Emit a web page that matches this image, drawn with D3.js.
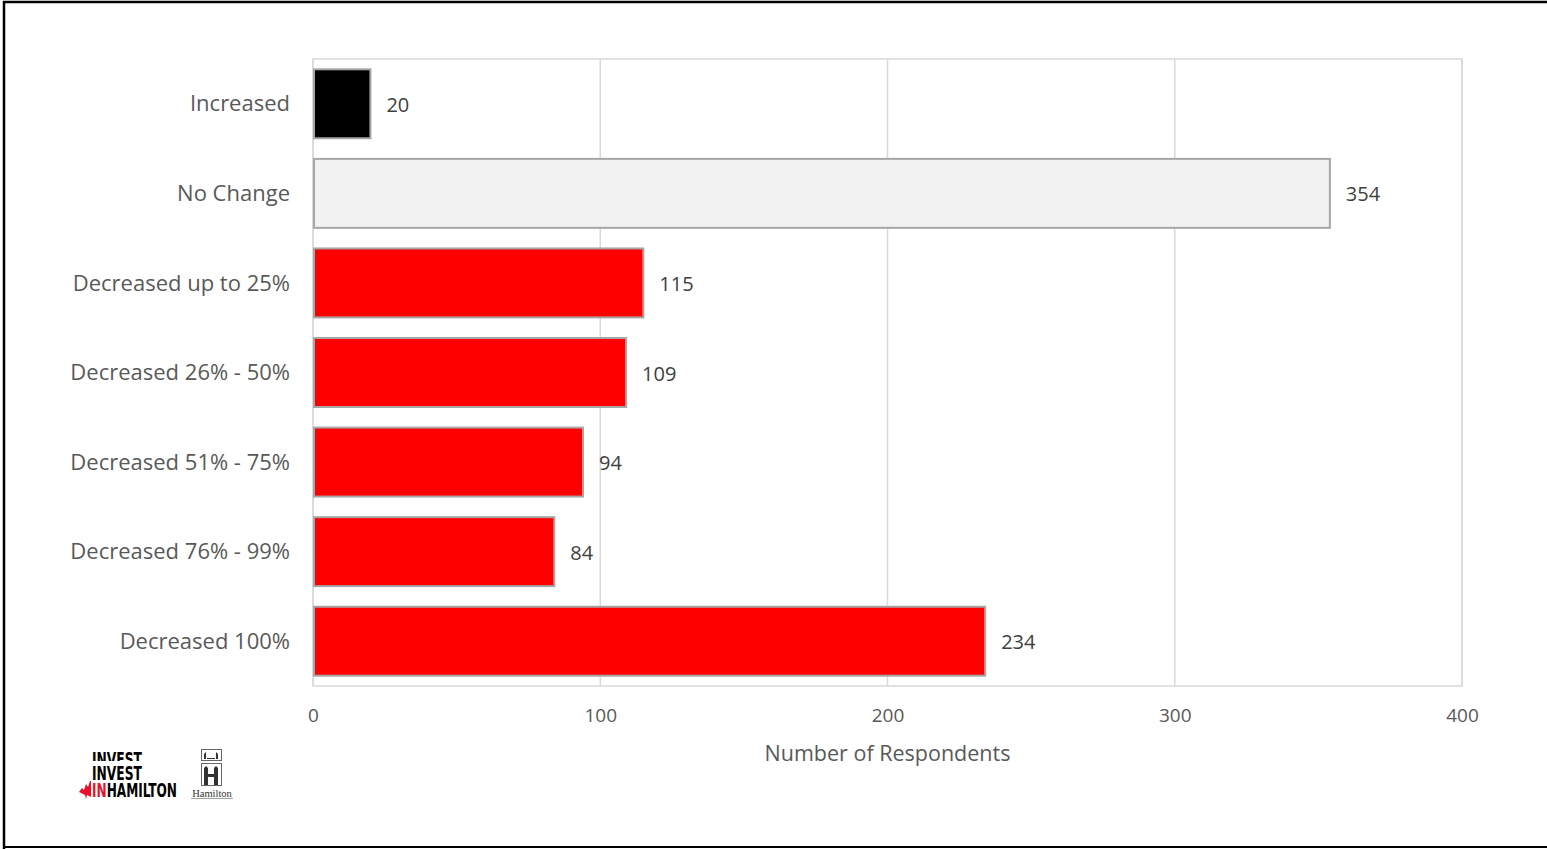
<!DOCTYPE html>
<html><head><meta charset="utf-8">
<script src="https://cdn.jsdelivr.net/npm/d3@7"></script>
<style>body{margin:0;background:#fff;}svg{display:block;}</style>
</head><body>
<svg id="chart" width="1547" height="849"></svg>
<script>
const categories = ["Increased","No Change","Decreased up to 25%","Decreased 26% - 50%","Decreased 51% - 75%","Decreased 76% - 99%","Decreased 100%"];
const values = [20,354,115,109,94,84,234];
const barColors = ["#000000","#f2f2f2","#ff0000","#ff0000","#ff0000","#ff0000","#ff0000"];
const xTicks = [0,100,200,300,400];
const axisTitle = "Number of Respondents";

(function(){
const svg = d3.select("#chart");
const font = "'Open Sans', 'Liberation Sans', sans-serif";
const pl = 313, pr = 1462, pt = 59, pb = 686;

// outer frame
svg.append("path").attr("d","M4,849 L4,2 L1547,2").attr("fill","none").attr("stroke","#000").attr("stroke-width",2.5);
svg.append("line").attr("x1",4).attr("x2",1547).attr("y1",847).attr("y2",847).attr("stroke","#000").attr("stroke-width",2);

const x = d3.scaleLinear().domain([0,400]).range([pl,pr]);
const y = d3.scaleBand().domain(categories).range([pt,pb]).paddingInner(0.23).paddingOuter(0.115);

// gridlines
svg.append("g").selectAll("line").data(xTicks).join("line")
  .attr("x1",d=>x(d)).attr("x2",d=>x(d)).attr("y1",pt).attr("y2",pb)
  .attr("stroke","#d9d9d9").attr("stroke-width",1.5);
svg.append("rect").attr("x",pl).attr("y",pt).attr("width",pr-pl).attr("height",pb-pt)
  .attr("fill","none").attr("stroke","#d9d9d9").attr("stroke-width",1.5);

// bars
svg.append("g").selectAll("rect").data(values).join("rect")
  .attr("x",x(0)+1).attr("y",(d,i)=>y(categories[i]))
  .attr("width",d=>x(d)-x(0)-1).attr("height",y.bandwidth())
  .attr("fill",(d,i)=>barColors[i]).attr("stroke","#a6a6a6").attr("stroke-width",2);

// value labels
svg.append("g").selectAll("text").data(values).join("text")
  .attr("x",d=>x(d)+16).attr("y",(d,i)=>y(categories[i])+y.bandwidth()/2+1)
  .attr("dy","0.35em").attr("font-family",font).attr("font-size",20).attr("fill","#404040")
  .text(d=>d);

// category labels
svg.append("g").selectAll("text").data(categories).join("text")
  .attr("x",290).attr("y",d=>y(d)+y.bandwidth()/2+1).attr("dy","0.3em")
  .attr("text-anchor","end").attr("font-family",font).attr("font-size",22).attr("fill","#595959")
  .text(d=>d);

// x axis
const xAxis = d3.axisBottom(x).tickValues(xTicks).tickSize(0).tickPadding(23);
const gx = svg.append("g").attr("transform",`translate(0,${pb})`).call(xAxis);
gx.select(".domain").remove();
gx.selectAll("text").attr("font-family",font).attr("font-size",19).attr("fill","#595959");

svg.append("text").attr("x",(pl+pr)/2).attr("y",761).attr("text-anchor","middle")
  .attr("font-family",font).attr("font-size",21.5).attr("fill","#595959").text(axisTitle);

// logos
svg.append("clipPath").attr("id","cl").append("rect").attr("x",80).attr("y",750).attr("width",100).attr("height",11);
const logo = svg.append("g");
const cond = "'Liberation Sans Narrow','DejaVu Sans Condensed',sans-serif";
logo.append("text").attr("x",92).attr("y",766).attr("font-family",cond).attr("clip-path","url(#cl)")
  .attr("font-weight","bold").attr("font-size",20).attr("fill","#000").attr("textLength",50).attr("lengthAdjust","spacingAndGlyphs").text("INVEST");
logo.append("text").attr("x",92).attr("y",780).attr("font-family",cond)
  .attr("font-weight","bold").attr("font-size",20).attr("fill","#000").attr("textLength",50).attr("lengthAdjust","spacingAndGlyphs").text("INVEST");
const t3 = logo.append("text").attr("x",92).attr("y",797).attr("font-family",cond)
  .attr("font-weight","bold").attr("font-size",20).attr("textLength",85).attr("lengthAdjust","spacingAndGlyphs");
t3.append("tspan").attr("fill","#e8112d").text("IN");
t3.append("tspan").attr("fill","#000").text("HAMILTON");
logo.append("path").attr("d","M79,792 L82,788 L84,790 L86,784 L88,787 L90,781 L91,781 L91,797 L87,795 L86,799 L85,795 Z").attr("fill","#e8112d");

// Hamilton crest
const h = svg.append("g");
h.append("rect").attr("x",201.5).attr("y",749.5).attr("width",20).attr("height",11).attr("fill","none").attr("stroke","#666");
h.append("rect").attr("x",201.5).attr("y",763.5).attr("width",20).attr("height",22).attr("fill","none").attr("stroke","#666");
h.append("path").attr("d","M204,759 L204,754 L206,752 L206,759 Z M216,759 L216,752 L218,754 L218,759 Z M207,758 L215,758 L215,759 L207,759 Z").attr("fill","#333");
h.append("path").attr("d","M204,785 L204,768 L206,766 L208,768 L208,785 Z M214,785 L214,768 L216,766 L218,768 L218,785 Z M208,774 L214,774 L214,777 L208,777 Z").attr("fill","#333");
svg.append("text").attr("x",212).attr("y",797).attr("text-anchor","middle").attr("font-family","'Liberation Serif',serif")
  .attr("font-size",10.5).attr("fill","#333").text("Hamilton");
svg.append("line").attr("x1",191).attr("x2",233).attr("y1",798.5).attr("y2",798.5).attr("stroke","#888").attr("stroke-width",0.8);
})();
</script>
</body></html>
